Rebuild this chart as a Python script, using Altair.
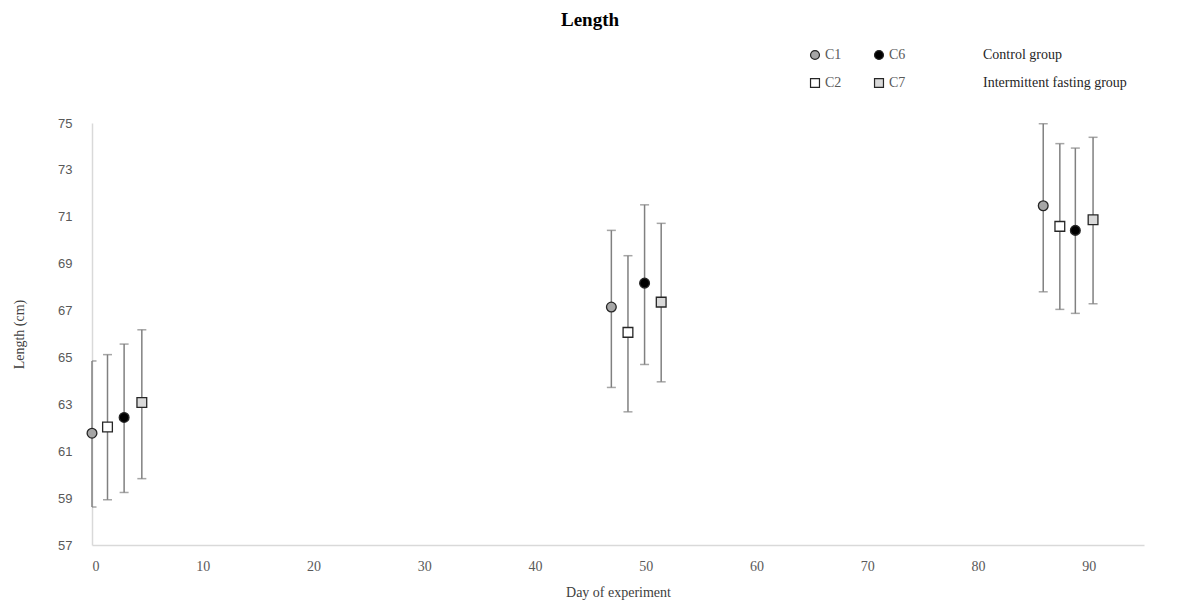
import altair as alt
import pandas as pd

series = ["C1", "C2", "C6", "C7"]
days = {
    "C1": [0.0, 46.9, 85.9],
    "C2": [1.4, 48.4, 87.4],
    "C6": [2.9, 49.9, 88.8],
    "C7": [4.5, 51.4, 90.4],
}
means = {
    "C1": [61.77, 67.15, 71.47],
    "C2": [62.03, 66.07, 70.59],
    "C6": [62.44, 68.17, 70.42],
    "C7": [63.08, 67.36, 70.87],
}
lows = {
    "C1": [58.62, 63.72, 67.80],
    "C2": [58.93, 62.68, 67.05],
    "C6": [59.24, 64.70, 66.88],
    "C7": [59.83, 63.96, 67.29],
}
highs = {
    "C1": [64.85, 70.42, 74.97],
    "C2": [65.12, 69.34, 74.12],
    "C6": [65.57, 71.51, 73.93],
    "C7": [66.18, 70.72, 74.39],
}
legend_order = ["C1", "C6", "C2", "C7"]
legend_values = ["C1", "C2", "C6", "C7"]  # legend grid fills column by column
fills = ["#a6a6a6", "#000000", "#ffffff", "#d9d9d9"]
shapes = ["circle", "circle", "square", "square"]
group_labels = ["Control group", "Intermittent fasting group"]
x_ticks = [0, 10, 20, 30, 40, 50, 60, 70, 80, 90]
y_ticks = [57, 59, 61, 63, 65, 67, 69, 71, 73, 75]

rows = []
for s in series:
    for d, m, lo, hi in zip(days[s], means[s], lows[s], highs[s]):
        rows.append({"series": s, "day": d, "mean": m, "lo": lo, "hi": hi})
df = pd.DataFrame(rows)

xs = alt.Scale(domain=[0, 95], nice=False, zero=False)
ys = alt.Scale(domain=[57, 75], nice=False, zero=False)

x_axis = alt.Axis(values=x_ticks, title="Day of experiment", grid=False, ticks=False,
                  domainColor="#d9d9d9", domainWidth=1.5, labelFont="Liberation Serif",
                  labelFontSize=14, labelColor="#595959", labelPadding=14,
                  titleFont="Liberation Serif", titleFontSize=14, titleFontWeight="normal",
                  titleColor="#404040", titlePadding=12)
y_axis = alt.Axis(values=y_ticks, title="Length (cm)", grid=False, ticks=False,
                  domainColor="#d9d9d9", domainWidth=1.5, labelFont="Liberation Sans",
                  labelFontSize=13, labelColor="#595959", labelPadding=20,
                  titleFont="Liberation Serif", titleFontSize=14, titleFontWeight="normal",
                  titleColor="#404040", titlePadding=31)

base = alt.Chart(df)

bars = base.mark_rule(color="#808080", strokeWidth=1.5).encode(
    x=alt.X("day:Q", scale=xs, axis=x_axis),
    y=alt.Y("lo:Q", scale=ys, axis=y_axis),
    y2="hi:Q",
)
cap_lo = base.mark_tick(color="#808080", size=9, thickness=1.5, orient="horizontal", clip=True).encode(
    x=alt.X("day:Q", scale=xs), y=alt.Y("lo:Q", scale=ys)
)
cap_hi = base.mark_tick(color="#808080", size=9, thickness=1.5, orient="horizontal", clip=True).encode(
    x=alt.X("day:Q", scale=xs), y=alt.Y("hi:Q", scale=ys)
)

legend = alt.Legend(title=None, orient="none", legendX=716, legendY=-75, columns=2,
                    columnPadding=30, rowPadding=14, padding=0, values=legend_values,
                    labelFont="Liberation Serif", labelFontSize=14, labelColor="#595959",
                    symbolSize=80, symbolStrokeWidth=1.2, labelOffset=3)

points = base.mark_point(filled=True, size=95, opacity=1, strokeWidth=1.3).encode(
    x=alt.X("day:Q", scale=xs),
    y=alt.Y("mean:Q", scale=ys),
    fill=alt.Fill("series:N", scale=alt.Scale(domain=legend_order, range=fills), legend=legend),
    shape=alt.Shape("series:N", scale=alt.Scale(domain=legend_order, range=shapes), legend=legend),
    stroke=alt.Stroke("series:N", scale=alt.Scale(domain=legend_order, range=["#262626"] * 4),
                      legend=legend),
)

t1 = alt.Chart(pd.DataFrame({"t": [group_labels[0]]})).mark_text(
    align="left", baseline="middle", font="Liberation Serif", fontSize=14, color="#262626"
).encode(text="t:N", x=alt.value(891), y=alt.value(-68))
t2 = alt.Chart(pd.DataFrame({"t": [group_labels[1]]})).mark_text(
    align="left", baseline="middle", font="Liberation Serif", fontSize=14, color="#262626"
).encode(text="t:N", x=alt.value(891), y=alt.value(-40))

chart = alt.layer(bars, cap_lo, cap_hi, points, t1, t2).properties(
    width=1052, height=422,
    title=alt.TitleParams("Length", font="Liberation Serif", fontSize=19, fontWeight="bold",
                          color="#000000", anchor="middle", dx=-28, offset=18),
    autosize=alt.AutoSizeParams(type="none"),
    padding={"left": 92, "top": 123, "right": 34, "bottom": 63},
).configure(background="white").configure_view(strokeWidth=0, stroke="transparent")

chart.save("out.html", embed_options={"renderer": "svg", "actions": False})
